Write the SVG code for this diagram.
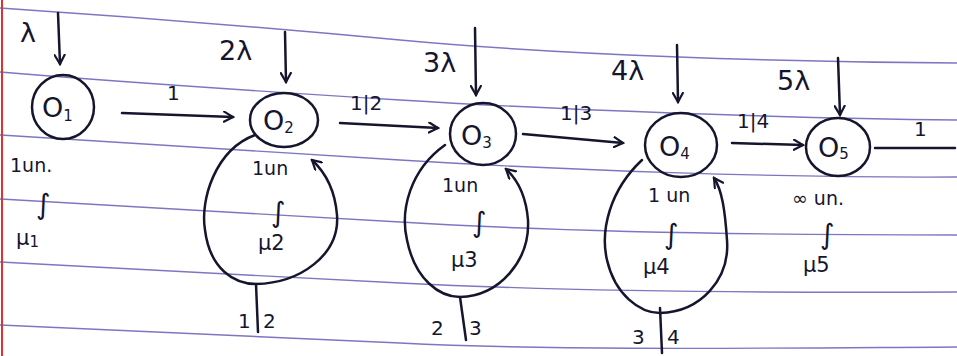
<svg xmlns="http://www.w3.org/2000/svg" width="957" height="356" viewBox="0 0 957 356">
<style>
.ink{fill:none;stroke:#15152e;stroke-width:2.5;stroke-linecap:round;stroke-linejoin:round}
.rule{fill:none;stroke:#5b55b0;stroke-width:1.4;opacity:0.8}
text{font-family:"DejaVu Sans","Liberation Sans",sans-serif;fill:#15152e}
.lam{font-size:27px}
.nd{font-size:27px}
.sb{font-size:15px}
.lb{font-size:19px}
.sq{font-size:28px}
.mu{font-size:21px}
.el{font-size:20px}
</style>
<defs>
<marker id="ah" viewBox="0 0 12 12" refX="10" refY="6" markerWidth="12" markerHeight="12" markerUnits="userSpaceOnUse" orient="auto">
<path d="M1,1 L10,6 L1,11" fill="none" stroke="#15152e" stroke-width="2.2" stroke-linecap="round"/>
</marker>
</defs>
<rect width="957" height="356" fill="#ffffff"/>
<g id="paper">
<path class="rule" d="M0,8 C120,16 240,25 400,40 S780,62 957,63"/>
<path class="rule" d="M0,72 C120,82 240,90 400,100 S780,118 957,120"/>
<path class="rule" d="M0,135 C120,143 240,150 400,160 S780,178 957,177"/>
<path class="rule" d="M0,199 C120,206 240,212 400,222 S780,235 957,235"/>
<path class="rule" d="M0,262 C120,268 240,275 400,283 S780,293 957,292"/>
<path class="rule" d="M0,325 C120,330 240,335 400,343 S780,348 957,347"/>
<line x1="2" y1="0" x2="2" y2="356" stroke="#e03030" stroke-width="2"/>
</g>
<g id="connectors">
<path class="ink" d="M58,13 L60,64" marker-end="url(#ah)"/>
<path class="ink" d="M285,32 L286,82" marker-end="url(#ah)"/>
<path class="ink" d="M475,28 L476,95" marker-end="url(#ah)"/>
<path class="ink" d="M677,45 L678,102" marker-end="url(#ah)"/>
<path class="ink" d="M838,58 L840,115" marker-end="url(#ah)"/>
<path class="ink" d="M122,113 L233,117" marker-end="url(#ah)"/>
<path class="ink" d="M340,123 L438,128" marker-end="url(#ah)"/>
<path class="ink" d="M523,134 L623,143" marker-end="url(#ah)"/>
<path class="ink" d="M732,143 L803,145" marker-end="url(#ah)"/>
<path class="ink" d="M875,148 L955,148"/>
<path class="ink" d="M255,135 C215,150 200,200 205,230 C210,270 235,284 256,284 C300,283 340,255 337,215 C335,190 325,172 312,160" marker-end="url(#ah)"/>
<path class="ink" d="M256,284 L258,332"/>
<path class="ink" d="M445,145 C410,170 400,210 407,240 C415,280 440,297 460,297 C500,296 530,260 528,220 C526,195 518,180 506,169" marker-end="url(#ah)"/>
<path class="ink" d="M460,297 L466,340"/>
<path class="ink" d="M642,160 C610,190 600,230 607,260 C615,295 640,313 660,313 C700,312 730,280 727,240 C725,210 722,190 714,178" marker-end="url(#ah)"/>
<path class="ink" d="M660,308 L662,353"/>
<text class="el" x="167" y="100">1</text>
<text class="el" x="350" y="110">1|2</text>
<text class="el" x="560" y="120">1|3</text>
<text class="el" x="737" y="128">1|4</text>
<text class="el" x="914" y="136">1</text>
<text class="el" x="238" y="328">1</text>
<text class="el" x="263" y="328">2</text>
<text class="el" x="431" y="335">2</text>
<text class="el" x="469" y="335">3</text>
<text class="el" x="632" y="344">3</text>
<text class="el" x="667" y="344">4</text>
</g>
<g id="Q1">
<ellipse class="ink" cx="63" cy="107" rx="31" ry="32"/>
<text class="nd" x="42" y="117">O<tspan class="sb" dy="4">1</tspan></text>
<text class="lam" x="20" y="42">λ</text>
<text class="lb" x="10" y="172">1un.</text>
<text class="sq" x="36" y="214">∫</text>
<text class="mu" x="16" y="245">μ<tspan class="sb" dy="2">1</tspan></text>
</g>
<g id="Q2">
<ellipse class="ink" cx="284" cy="120" rx="34" ry="27"/>
<text class="nd" x="263" y="130">O<tspan class="sb" dy="3">2</tspan></text>
<text class="lam" x="219" y="60">2λ</text>
<text class="lb" x="252" y="175">1un</text>
<text class="sq" x="271" y="222">∫</text>
<text class="mu" x="258" y="250">μ2</text>
</g>
<g id="Q3">
<ellipse class="ink" cx="483" cy="134" rx="33" ry="31"/>
<text class="nd" x="461" y="145">O<tspan class="sb" dy="3">3</tspan></text>
<text class="lam" x="423" y="72">3λ</text>
<text class="lb" x="442" y="192">1un</text>
<text class="sq" x="472" y="232">∫</text>
<text class="mu" x="451" y="267">μ3</text>
</g>
<g id="Q4">
<ellipse class="ink" cx="681" cy="145" rx="36" ry="32"/>
<text class="nd" x="659" y="156">O<tspan class="sb" dy="3">4</tspan></text>
<text class="lam" x="611" y="80">4λ</text>
<text class="lb" x="648" y="202">1 un</text>
<text class="sq" x="664" y="244">∫</text>
<text class="mu" x="643" y="274">μ4</text>
</g>
<g id="Q5">
<ellipse class="ink" cx="838" cy="147" rx="32" ry="29"/>
<text class="nd" x="818" y="157">O<tspan class="sb" dy="2">5</tspan></text>
<text class="lam" x="777" y="90">5λ</text>
<text class="lb" x="792" y="205">∞ un.</text>
<text class="sq" x="820" y="244">∫</text>
<text class="mu" x="803" y="272">μ5</text>
</g>
</svg>
